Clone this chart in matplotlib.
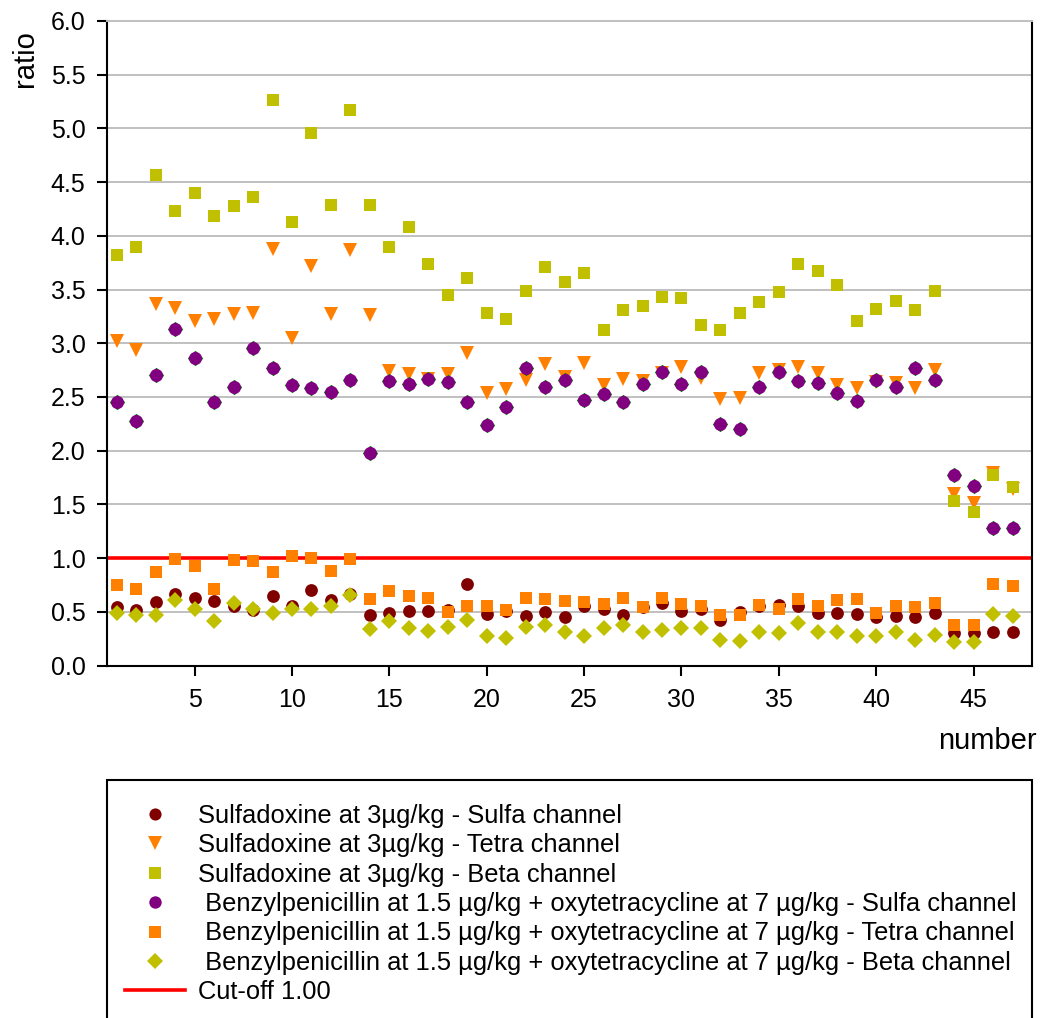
import matplotlib
matplotlib.use("Agg")
import matplotlib.pyplot as plt
from matplotlib.patches import Rectangle
import numpy as np

plt.rcParams['font.family'] = ['Liberation Sans', 'DejaVu Sans']

number = list(range(1, 48))

sulfadoxine_sulfa = [0.54, 0.52, 0.59, 0.67, 0.63, 0.60, 0.55, 0.52, 0.65, 0.55, 0.70, 0.61, 0.67,
                     0.47, 0.49, 0.51, 0.51, 0.52, 0.76, 0.48, 0.51, 0.46, 0.50, 0.45, 0.55, 0.53,
                     0.47, 0.54, 0.58, 0.51, 0.53, 0.42, 0.50, 0.55, 0.56, 0.55, 0.49, 0.49, 0.48,
                     0.45, 0.46, 0.45, 0.49, 0.30, 0.30, 0.31, 0.31]
sulfadoxine_tetra = [3.02, 2.94, 3.37, 3.33, 3.21, 3.23, 3.27, 3.28, 3.88, 3.05, 3.72, 3.27, 3.87,
                     3.26, 2.74, 2.71, 2.67, 2.71, 2.91, 2.54, 2.57, 2.66, 2.81, 2.69, 2.82, 2.61,
                     2.67, 2.65, 2.72, 2.78, 2.68, 2.48, 2.49, 2.72, 2.75, 2.78, 2.72, 2.61, 2.58,
                     2.64, 2.63, 2.58, 2.75, 1.60, 1.51, 1.79, 1.64]
sulfadoxine_beta = [3.82, 3.90, 4.57, 4.23, 4.40, 4.18, 4.28, 4.36, 5.26, 4.13, 4.96, 4.29, 5.17,
                    4.29, 3.90, 4.08, 3.74, 3.45, 3.61, 3.28, 3.23, 3.49, 3.71, 3.57, 3.65, 3.12,
                    3.31, 3.35, 3.43, 3.42, 3.17, 3.12, 3.28, 3.38, 3.48, 3.74, 3.67, 3.54, 3.21,
                    3.32, 3.39, 3.31, 3.49, 1.53, 1.43, 1.77, 1.66]
benzyl_sulfa = [2.45, 2.28, 2.70, 3.13, 2.86, 2.45, 2.59, 2.96, 2.77, 2.61, 2.58, 2.55, 2.66,
                1.98, 2.65, 2.62, 2.67, 2.64, 2.45, 2.24, 2.41, 2.77, 2.59, 2.66, 2.47, 2.53,
                2.45, 2.62, 2.73, 2.62, 2.73, 2.25, 2.20, 2.59, 2.73, 2.65, 2.63, 2.54, 2.46,
                2.66, 2.59, 2.77, 2.66, 1.77, 1.67, 1.28, 1.28]
benzyl_tetra = [0.75, 0.71, 0.87, 0.99, 0.93, 0.71, 0.98, 0.97, 0.87, 1.02, 1.00, 0.88, 0.99,
                0.62, 0.69, 0.65, 0.63, 0.50, 0.55, 0.55, 0.52, 0.63, 0.62, 0.60, 0.59, 0.57,
                0.63, 0.54, 0.63, 0.57, 0.55, 0.47, 0.47, 0.56, 0.53, 0.62, 0.55, 0.61, 0.62,
                0.49, 0.55, 0.54, 0.58, 0.38, 0.38, 0.76, 0.74]
benzyl_beta = [0.49, 0.47, 0.47, 0.61, 0.53, 0.41, 0.58, 0.53, 0.49, 0.53, 0.53, 0.55, 0.66,
               0.34, 0.41, 0.35, 0.32, 0.36, 0.42, 0.27, 0.26, 0.36, 0.38, 0.31, 0.27, 0.35,
               0.38, 0.31, 0.33, 0.35, 0.35, 0.24, 0.23, 0.31, 0.30, 0.40, 0.31, 0.31, 0.27,
               0.27, 0.31, 0.24, 0.28, 0.22, 0.22, 0.48, 0.46]
cutoff = 1.00

labels = [
    "Sulfadoxine at 3µg/kg - Sulfa channel",
    "Sulfadoxine at 3µg/kg - Tetra channel",
    "Sulfadoxine at 3µg/kg - Beta channel",
    " Benzylpenicillin at 1.5 µg/kg + oxytetracycline at 7 µg/kg - Sulfa channel",
    " Benzylpenicillin at 1.5 µg/kg + oxytetracycline at 7 µg/kg - Tetra channel",
    " Benzylpenicillin at 1.5 µg/kg + oxytetracycline at 7 µg/kg - Beta channel",
    "Cut-off 1.00",
]
x_ticks = [5, 10, 15, 20, 25, 30, 35, 40, 45]
y_ticks = np.arange(0, 6.01, 0.5)

W, H = 1040, 1018
fig = plt.figure(figsize=(W / 100, H / 100), dpi=100)
ax = fig.add_axes([107 / W, 1 - 665.5 / H, 925 / W, (665.5 - 21) / H])

ax.set_xlim(0.5, 48.0)
ax.set_ylim(0, 6)
ax.set_yticks(y_ticks)
ax.set_yticklabels([f"{v:.1f}" for v in y_ticks])
ax.set_xticks(x_ticks)
ax.grid(axis='y', color='#c0c0c0', linewidth=1.4, zorder=0)
ax.set_axisbelow(True)

for side in ('left', 'bottom', 'right'):
    ax.spines[side].set_linewidth(1.5)
    ax.spines[side].set_color('black')
ax.spines['top'].set_color('#c0c0c0')
ax.spines['top'].set_linewidth(1.4)

ax.tick_params(axis='x', direction='out', length=7, width=1.5, pad=9.5, labelsize=18)
ax.tick_params(axis='y', direction='out', length=7, width=1.5, pad=8.5, labelsize=18)

line_cut = ax.axhline(cutoff, color='#ff0000', linewidth=2.6, zorder=1, label=labels[6])

h1, = ax.plot(number, sulfadoxine_sulfa, 'o', color='#800000', ms=9.2, mew=0,
              linestyle='none', zorder=3, label=labels[0])
h2, = ax.plot(number, sulfadoxine_tetra, 'v', color='#ff8000', ms=10, mew=0,
              linestyle='none', zorder=3, label=labels[1])
h3, = ax.plot(number, sulfadoxine_beta, 's', color='#c0c000', ms=8.8, mew=0,
              linestyle='none', zorder=3, label=labels[2])
ax.plot(number, benzyl_sulfa, 'D', color='#800080', mec='#008000', ms=7.6, mew=0.9,
        linestyle='none', zorder=3)
h4, = ax.plot(number, benzyl_sulfa, 'o', color='#800080', ms=9.4, mew=0,
              linestyle='none', zorder=3, label=labels[3])
h5, = ax.plot(number, benzyl_tetra, 's', color='#ff8000', ms=8.8, mew=0,
              linestyle='none', zorder=3, label=labels[4])
h6, = ax.plot(number, benzyl_beta, 'D', color='#c0c000', ms=8.2, mew=0,
              linestyle='none', zorder=3, label=labels[5])

ax.set_xlabel('number', fontsize=21, loc='right')
ax.xaxis.set_label_coords((1037 - 107) / 925, (665.5 - 727) / 644.5)
ax.set_ylabel('ratio', fontsize=21)
ax.yaxis.set_label_coords((39 - 107) / 925, (665.5 - 59) / 644.5)

# legend entries without their own frame; the box is drawn separately so it
# can run past the bottom edge of the figure
leg = fig.legend(handles=[h1, h2, h3, h4, h5, h6, line_cut], labels=labels,
                 loc='upper left', bbox_to_anchor=(125 / W, 1 - 804 / H),
                 fontsize=18.4, frameon=False, borderpad=0, labelspacing=0.21,
                 handlelength=2.35, handletextpad=0.5, borderaxespad=0, markerscale=0.95)
fig.add_artist(Rectangle((107 / W, -0.05), 925 / W, (H - 780) / H + 0.05,
                         transform=fig.transFigure, fill=False, edgecolor='black',
                         linewidth=1.5))

fig.savefig('out.png', dpi=100)
